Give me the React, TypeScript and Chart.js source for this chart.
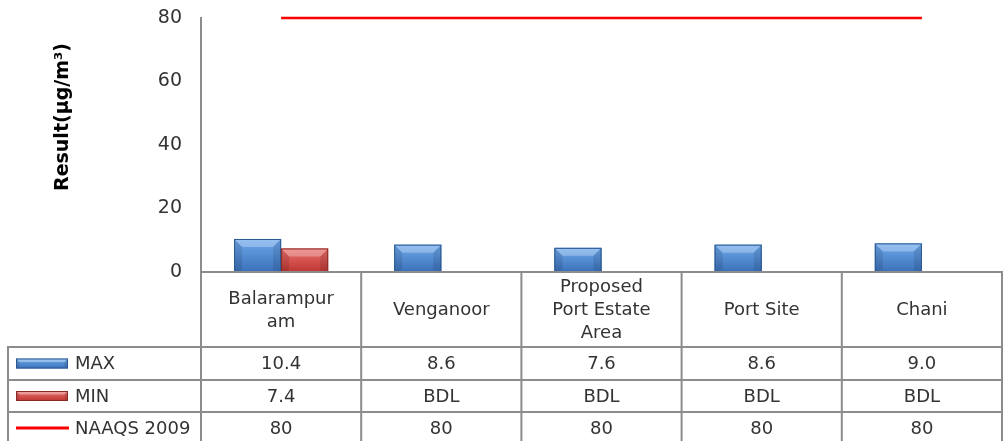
import React, { useEffect, useRef } from 'react';
import { Chart, registerables } from 'chart.js';
Chart.register(...registerables);

const categories: string[][] = [
  ['Balarampur', 'am'],
  ['Venganoor'],
  ['Proposed', 'Port Estate', 'Area'],
  ['Port Site'],
  ['Chani'],
];
const maxValues = [10.4, 8.6, 7.6, 8.6, 9.0];
const minValues: (number | null)[] = [7.4, null, null, null, null];
const naaqsValues = [80, 80, 80, 80, 80];
const maxLabels = ['10.4', '8.6', '7.6', '8.6', '9.0'];
const minLabels = ['7.4', 'BDL', 'BDL', 'BDL', 'BDL'];
const naaqsLabels = ['80', '80', '80', '80', '80'];
const seriesNames = ['MAX', 'MIN', 'NAAQS 2009'];
const yTitle = 'Result(µg/m³)';

const FONT = "'DejaVu Sans', Verdana, sans-serif";
const GRID = '#8c8c8c';
const TEXT = '#333333';

const palettes = [
  { top: '#6ea9ec', bottom: '#3a70b8', border: '#2b5891', light: 'rgba(255,255,255,0.28)', dark: 'rgba(0,0,0,0.10)' },
  { top: '#ea716d', bottom: '#bd3632', border: '#8a2a27', light: 'rgba(255,255,255,0.28)', dark: 'rgba(0,0,0,0.10)' },
];

function drawBevelBar(ctx: CanvasRenderingContext2D, x0: number, y0: number, x1: number, y1: number, p: any) {
  const w = x1 - x0;
  const h = y1 - y0;
  if (h <= 0 || w <= 0) return;
  const g = ctx.createLinearGradient(0, y0, 0, y1);
  g.addColorStop(0, p.top);
  g.addColorStop(1, p.bottom);
  ctx.fillStyle = g;
  ctx.fillRect(x0, y0, w, h);
  const b = Math.min(8, h * 0.35, w * 0.2);
  ctx.fillStyle = p.light;
  ctx.beginPath();
  ctx.moveTo(x0, y0);
  ctx.lineTo(x1, y0);
  ctx.lineTo(x1 - b, y0 + b);
  ctx.lineTo(x0 + b, y0 + b);
  ctx.closePath();
  ctx.fill();
  ctx.fillStyle = p.dark;
  ctx.beginPath();
  ctx.moveTo(x0, y0);
  ctx.lineTo(x0 + b, y0 + b);
  ctx.lineTo(x0 + b, y1 - 2);
  ctx.lineTo(x0, y1);
  ctx.closePath();
  ctx.fill();
  ctx.beginPath();
  ctx.moveTo(x1, y0);
  ctx.lineTo(x1 - b, y0 + b);
  ctx.lineTo(x1 - b, y1 - 2);
  ctx.lineTo(x1, y1);
  ctx.closePath();
  ctx.fill();
  ctx.strokeStyle = p.border;
  ctx.lineWidth = 1;
  ctx.strokeRect(x0 + 0.5, y0 + 0.5, w - 1, h - 1);
}

const bevelPlugin = {
  id: 'bevelBars',
  afterDatasetsDraw(chart: any) {
    const ctx = chart.ctx;
    [0, 1].forEach((di) => {
      const meta = chart.getDatasetMeta(di);
      meta.data.forEach((el: any, i: number) => {
        const v = chart.data.datasets[di].data[i];
        if (v === null || v === undefined) return;
        const { x, y, base, width } = el.getProps(['x', 'y', 'base', 'width'], true);
        ctx.save();
        drawBevelBar(ctx, x - width / 2, y, x + width / 2, base, palettes[di]);
        ctx.restore();
      });
    });
  },
};

const tablePlugin = {
  id: 'dataTable',
  afterDraw(chart: any) {
    const ctx: CanvasRenderingContext2D = chart.ctx;
    const xs = chart.scales.x;
    const ca = chart.chartArea;
    const n = categories.length;
    const half = (xs.right - xs.left) / n / 2;
    const tableLeft = 8;
    const headTop = ca.bottom;
    const headBottom = headTop + 75;
    const rowHeights = [33, 32, 32];
    const rowTops = [headBottom];
    rowHeights.forEach((h, i) => rowTops.push(rowTops[i] + h));
    const tableBottom = rowTops[rowTops.length - 1];

    ctx.save();
    ctx.strokeStyle = GRID;
    ctx.lineWidth = 2;
    ctx.beginPath();
    ctx.moveTo(ca.left - 1, headTop);
    ctx.lineTo(ca.right + 1, headTop);
    rowTops.forEach((t) => {
      ctx.moveTo(tableLeft - 1, t);
      ctx.lineTo(ca.right + 1, t);
    });
    ctx.moveTo(ca.left, headTop);
    ctx.lineTo(ca.left, tableBottom);
    ctx.moveTo(tableLeft, headBottom);
    ctx.lineTo(tableLeft, tableBottom);
    for (let i = 0; i < n; i++) {
      const xr = xs.getPixelForValue(i) + half;
      ctx.moveTo(xr, headTop);
      ctx.lineTo(xr, tableBottom);
    }
    ctx.stroke();

    ctx.fillStyle = TEXT;
    ctx.textAlign = 'center';
    ctx.textBaseline = 'middle';
    ctx.font = `18px ${FONT}`;
    const headCenter = (headTop + headBottom) / 2 + 1;
    const lh = 23;
    categories.forEach((lines, i) => {
      const cx = xs.getPixelForValue(i);
      const y0 = headCenter - ((lines.length - 1) * lh) / 2;
      lines.forEach((l, j) => ctx.fillText(l, cx, y0 + j * lh));
    });
    ctx.font = `18px ${FONT}`;
    const rows = [maxLabels, minLabels, naaqsLabels];
    rows.forEach((labels, r) => {
      const cy = (rowTops[r] + rowTops[r + 1]) / 2 + 1;
      labels.forEach((t, i) => ctx.fillText(t, xs.getPixelForValue(i), cy));
    });
    ctx.textAlign = 'left';
    seriesNames.forEach((name, r) => {
      const cy = (rowTops[r] + rowTops[r + 1]) / 2;
      if (r < 2) {
        drawBevelBar(ctx, 16, cy - 5, 68, cy + 5, { ...palettes[r], light: 'rgba(255,255,255,0.35)' });
      } else {
        ctx.strokeStyle = '#ff0000';
        ctx.lineWidth = 3;
        ctx.beginPath();
        ctx.moveTo(16, cy);
        ctx.lineTo(69, cy);
        ctx.stroke();
      }
      ctx.fillStyle = TEXT;
      ctx.fillText(name, 75, cy + 1);
    });

    ctx.save();
    ctx.translate(63, 117);
    ctx.rotate(-Math.PI / 2);
    ctx.textAlign = 'center';
    ctx.textBaseline = 'middle';
    ctx.font = `bold 19px ${FONT}`;
    ctx.fillStyle = '#000000';
    ctx.fillText(yTitle, 0, 0);
    ctx.restore();
    ctx.restore();
  },
};

export default function App() {
  const ref = useRef<HTMLCanvasElement>(null);
  useEffect(() => {
    if (!ref.current) return;
    Chart.defaults.font.family = FONT;
    const chart = new Chart(ref.current, {
      type: 'bar',
      data: {
        labels: categories,
        datasets: [
          {
            label: seriesNames[0],
            data: maxValues,
            backgroundColor: '#4a86d0',
            borderWidth: 0,
            categoryPercentage: 0.5875,
            barPercentage: 1,
          },
          {
            label: seriesNames[1],
            data: minValues,
            backgroundColor: '#d04a46',
            borderWidth: 0,
            categoryPercentage: 0.5875,
            barPercentage: 1,
          },
          {
            type: 'line',
            label: seriesNames[2],
            data: naaqsValues,
            borderColor: '#ff0000',
            backgroundColor: '#ff0000',
            borderWidth: 2.5,
            pointRadius: 0,
            fill: false,
            clip: false,
          } as any,
        ],
      },
      options: {
        animation: false,
        responsive: false,
        devicePixelRatio: 1,
        layout: { padding: { left: 0, right: 3, top: 18, bottom: 169 } },
        plugins: { legend: { display: false }, tooltip: { enabled: false } },
        scales: {
          x: { display: false, grid: { display: false } },
          y: {
            min: 0,
            max: 80,
            ticks: { stepSize: 20, padding: 0, color: '#333333', font: { size: 19, family: FONT } },
            grid: { display: false, drawTicks: true, tickLength: 19 },
            border: { display: true, color: GRID, width: 2 },
            afterFit: (scale: any) => {
              scale.width = 201;
            },
          },
        },
      },
      plugins: [bevelPlugin, tablePlugin],
    });
    return () => chart.destroy();
  }, []);
  return (
    <div style={{ position: 'fixed', left: 0, top: 0, width: 1005, height: 441, background: '#fff' }}>
      <canvas ref={ref} width={1005} height={441} style={{ width: 1005, height: 441, display: 'block' }} />
    </div>
  );
}
